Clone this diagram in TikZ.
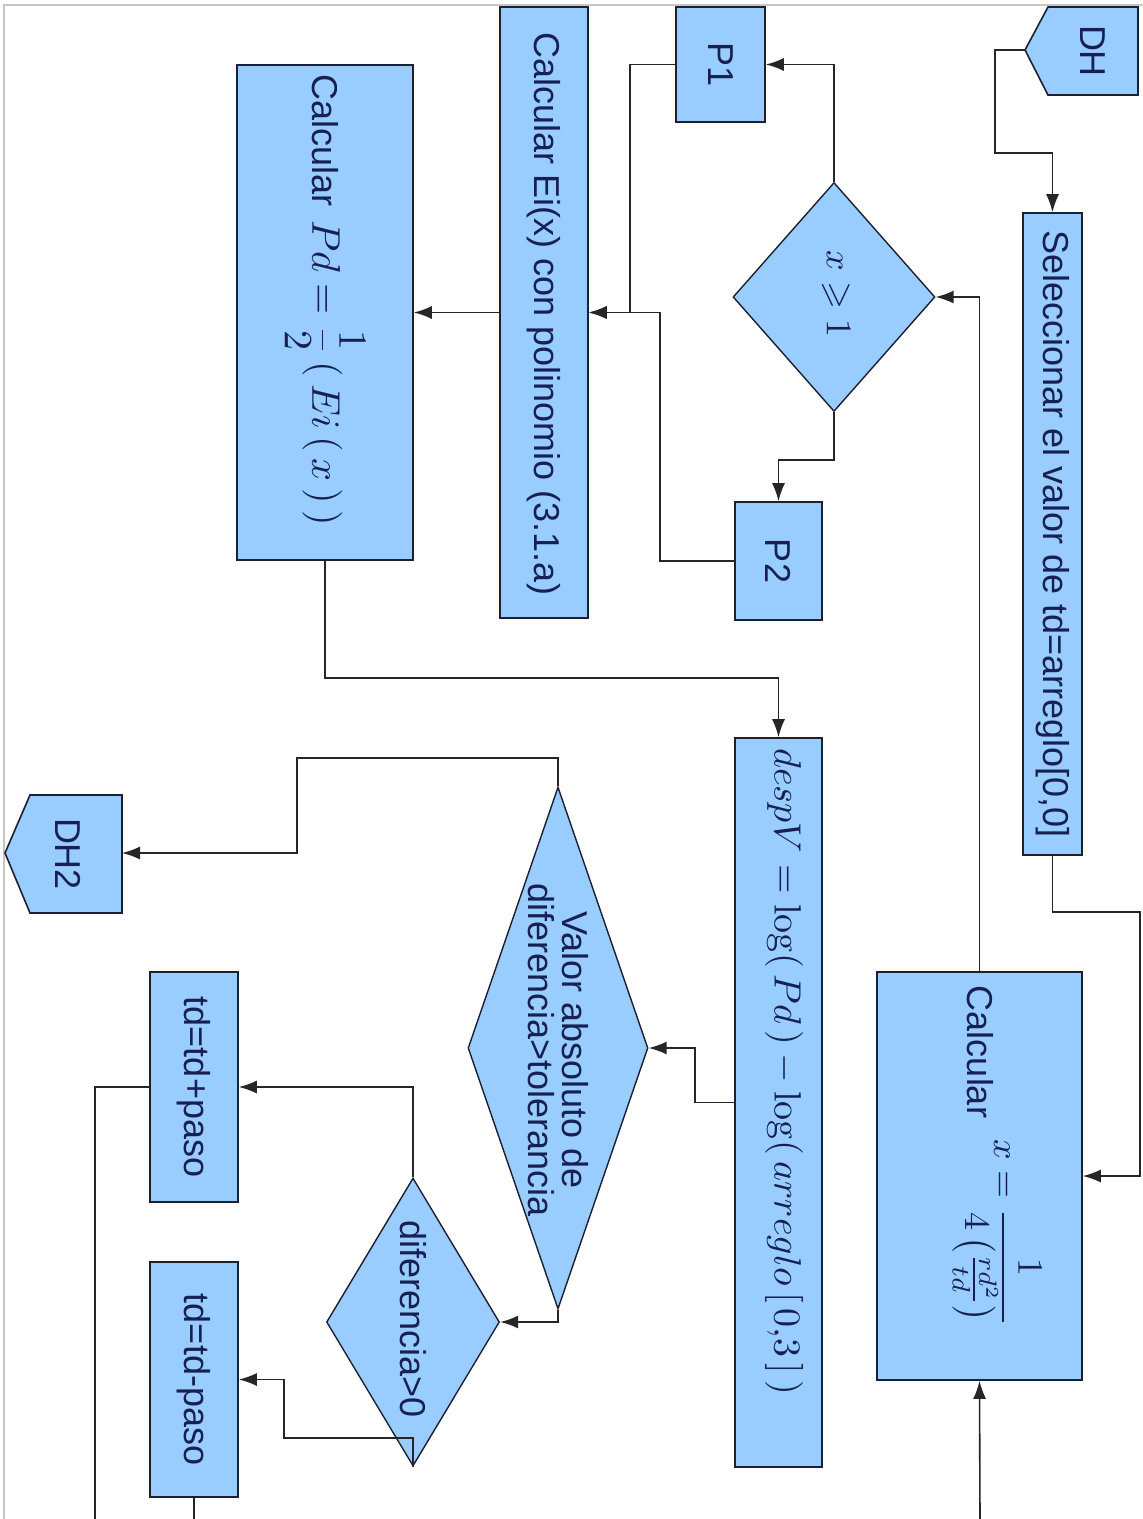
\documentclass[tikz,border=0pt]{standalone}
\usepackage{amsmath,amssymb}
\usepackage[no-math]{fontspec}
\setmainfont{Liberation Sans}
\usetikzlibrary{arrows.meta,shapes.geometric}
\definecolor{boxfill}{RGB}{153,204,255}
\definecolor{boxline}{RGB}{28,32,48}
\definecolor{txtcol}{RGB}{22,32,82}
\newcommand{\bigmath}[2]{\scalebox{#1}{\normalsize$#2$}}
\tikzset{
  blk/.style={draw=boxline, fill=boxfill, line width=1.6pt, rectangle, inner sep=0pt},
  dia/.style={draw=boxline, fill=boxfill, line width=1.4pt, diamond, inner sep=0pt, aspect=1},
  shp/.style={draw=boxline, fill=boxfill, line width=1.6pt},
  lbl/.style={rotate=-90, text=txtcol, font=\fontsize{36}{36}\selectfont, inner sep=0pt, align=center},
  conn/.style={line width=1.6pt, draw=black!85},
  arr/.style={conn, -{Latex[length=18pt,width=13pt]}}
}
\begin{document}
\begin{tikzpicture}[x=1pt,y=-1pt]
\useasboundingbox (0,0) rectangle (1143,1519);
\fill[white] (0,0) rectangle (1143,1519);
\draw[gray!45, line width=1.5pt] (4,1519) -- (4,5) -- (1143,5);

% terminals
\draw[shp] (1138,7) -- (1048,7) -- (1025,50) -- (1048,95) -- (1138,95) -- cycle;
\coordinate (dhp) at (1025,50);
\node[lbl] (dht) at (1093,51) {DH};
\draw[shp] (122,795) -- (30,795) -- (5,853) -- (30,913) -- (122,913) -- cycle;
\coordinate (dh2e) at (122,853);
\node[lbl] (dh2t) at (68,854) {DH2};

% boxes
\node[blk, minimum width=59pt, minimum height=642pt] (sel) at (1052.5,534) {};
\node[lbl] (selt) at (1053,534) {Seleccionar el valor de td=arreglo[0,0]};

\node[blk, minimum width=205pt, minimum height=408pt] (calcx) at (979.5,1176) {};
\node[lbl] (calcxt) at (980,1052) {Calcular};
\node[lbl] (calcxf) at (997,1233) {\bigmath{3.6}{\displaystyle x=\frac{1}{4\left(\frac{rd^2}{td}\right)}}};

\node[blk, minimum width=89pt, minimum height=115pt] (p1) at (720.5,64.5) {};
\node[lbl] (p1t) at (720.5,64.5) {P1};
\node[blk, minimum width=87pt, minimum height=118pt] (p2) at (778.5,561) {};
\node[lbl] (p2t) at (778.5,561) {P2};

\node[blk, minimum width=88pt, minimum height=611pt] (ei) at (544,312.5) {};
\node[lbl] (eit) at (544,314) {Calcular Ei(x) con polinomio (3.1.a)};

\node[blk, minimum width=176pt, minimum height=495pt] (pd) at (325,312.5) {};
\node[lbl] (pdt) at (325,300) {Calcular\hspace{14pt}\bigmath{4.0}{Pd=\dfrac{1}{2}\,(\,Ei\,(\,x\,)\,)}};

\node[blk, minimum width=87pt, minimum height=729pt] (dv) at (778.5,1102.5) {};
\node[lbl] (dvt) at (784,1072) {\bigmath{3.8}{despV=\log(\,Pd\,)-\log(\,arreglo\,[\,0{,}3\,]\,)}};

\node[blk, minimum width=88pt, minimum height=230pt] (tdp) at (194,1087) {};
\node[lbl] (tdpt) at (194,1087) {td=td+paso};
\node[blk, minimum width=88pt, minimum height=235pt] (tdm) at (194,1379.5) {};
\node[lbl] (tdmt) at (194,1379.5) {td=td-paso};

% decisions
\node[dia, minimum width=202pt, minimum height=229pt] (d1) at (834,297) {};
\node[lbl] (d1t) at (836,294) {\bigmath{3.6}{x\geqslant 1}};
\node[dia, minimum width=180pt, minimum height=522pt] (d2) at (558,1048) {};
\node[lbl] (d2t) at (558,1050) {Valor absoluto de\\[-2pt]diferencia>tolerancia};
\node[dia, minimum width=173pt, minimum height=288pt] (d3) at (413,1322) {};
\node[lbl] (d3t) at (413,1319) {diferencia>0};

% connectors
\draw[arr] (dhp) -| (995,153) -| (sel.north);
\draw[arr] (sel.south) -- (1052.5,912) -| (1140,1176) -- (calcx.east);
\coordinate (bin) at (980,1519);
\draw[arr] (bin) -- (calcx.south);
\draw[arr] (calcx.north) |- (d1.east);
\draw[arr] (d1.north) |- (p1.east);
\draw[arr] (d1.south) -- (834,460) -| (p2.north);
\draw[arr] (p1.west) -- (630,64.5) |- (ei.east);
\draw[arr] (p2.west) -- (660,561) |- (ei.east);
\draw[arr] (ei.west) -- (pd.east);
\draw[arr] (pd.south) -- (325,678) -| (dv.north);
\draw[arr] (dv.west) -- (695,1102.5) |- (d2.east);
\draw[arr] (d2.north) -- (558,758) -| (297,853) -- (dh2e);
\draw[arr] (d2.south) |- (d3.east);
\draw[arr] (d3.north) |- (tdp.east);
\draw[arr] (d3.south) -- (413,1438) -- (284,1438) |- (tdm.east);
\coordinate (outa) at (95,1519);
\coordinate (outb) at (194,1519);
\draw[conn] (tdp.west) -- (95,1087) -- (outa);
\draw[conn] (tdm.south) -- (outb);
\end{tikzpicture}
\end{document}
